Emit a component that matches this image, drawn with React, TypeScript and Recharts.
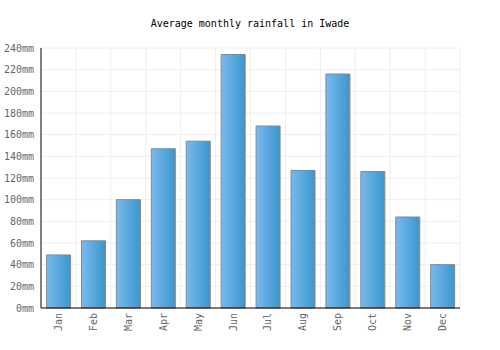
import React from 'react';
import { BarChart, Bar, XAxis, YAxis, CartesianGrid } from 'recharts';

const months = ['Jan', 'Feb', 'Mar', 'Apr', 'May', 'Jun', 'Jul', 'Aug', 'Sep', 'Oct', 'Nov', 'Dec'];
const rainfall = [49, 62, 100, 147, 154, 234, 168, 127, 216, 126, 84, 40];
const yTicks = [0, 20, 40, 60, 80, 100, 120, 140, 160, 180, 200, 220, 240];

const data = months.map((m, i) => ({ month: m, rain: rainfall[i] }));

const FONT = '"DejaVu Sans Mono", monospace';

const MonthTick = (props: any) => {
  const { x, y, payload } = props;
  const ty = y - 3;
  return (
    <text
      x={x}
      y={ty}
      transform={`rotate(-90, ${x}, ${ty})`}
      textAnchor="end"
      dominantBaseline="central"
      fontFamily={FONT}
      fontSize={10}
      fill="#666"
    >
      {payload.value}
    </text>
  );
};

export default function App() {
  return (
    <div style={{ position: 'absolute', left: 0, top: 0, width: 500, height: 350, background: '#fff' }}>
      <div
        style={{
          position: 'absolute',
          top: 18,
          width: 500,
          textAlign: 'center',
          fontFamily: FONT,
          fontSize: 10,
          color: '#000',
        }}
      >
        Average monthly rainfall in Iwade
      </div>
      <BarChart
        width={500}
        height={350}
        data={data}
        margin={{ top: 48, right: 40, left: 0, bottom: 0 }}
        barCategoryGap="16%"
      >
        <defs>
          <linearGradient id="barFill" x1="0" y1="0" x2="1" y2="0">
            <stop offset="0%" stopColor="#7bb9ec" />
            <stop offset="100%" stopColor="#3897cf" />
          </linearGradient>
        </defs>
        <CartesianGrid
          stroke="#eeeeee"
          strokeWidth={1}
          verticalCoordinatesGenerator={({ offset }: any) =>
            months.map((_, i) => offset.left + ((i + 1) * offset.width) / months.length)
          }
        />
        <XAxis
          dataKey="month"
          height={42}
          tickLine={false}
          axisLine={{ stroke: '#000', strokeWidth: 1 }}
          tick={<MonthTick />}
          interval={0}
        />
        <YAxis
          width={41}
          domain={[0, 240]}
          ticks={yTicks}
          interval={0}
          tickLine={false}
          tickSize={5}
          tickMargin={2}
          axisLine={{ stroke: '#000', strokeWidth: 1 }}
          tickFormatter={(v: number) => `${v}mm`}
          tick={{ fontFamily: FONT, fontSize: 10, fill: '#666' }}
        />
        <Bar
          dataKey="rain"
          fill="url(#barFill)"
          stroke="#888"
          strokeWidth={1}
          isAnimationActive={false}
        />
      </BarChart>
    </div>
  );
}
